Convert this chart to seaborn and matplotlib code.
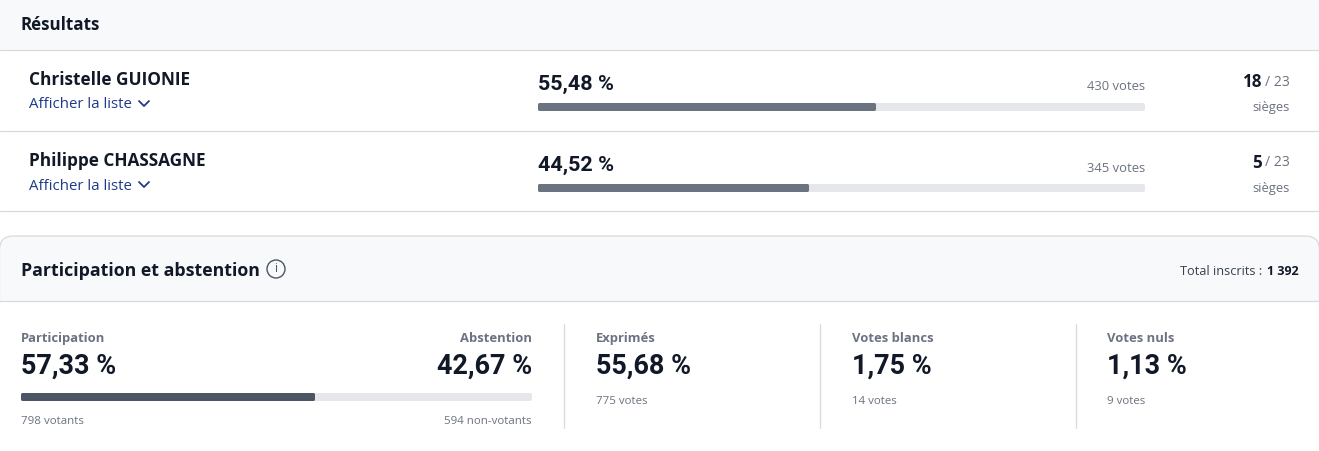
import matplotlib
matplotlib.use('Agg')
import matplotlib.pyplot as plt
import seaborn as sns
from matplotlib.patches import FancyBboxPatch, Rectangle, Circle

W, H = 1319, 451

candidates = ['Christelle GUIONIE', 'Philippe CHASSAGNE']
cand_pct = [55.48, 44.52]
cand_votes = [430, 345]
cand_seats = [18, 5]
total_seats = 23

participation = 57.33
abstention = 42.67
votants = 798
non_votants = 594
total_inscrits = '1 392'

stat_names = ['Exprimés', 'Votes blancs', 'Votes nuls']
stat_pct = [55.68, 1.75, 1.13]
stat_votes = [775, 14, 9]

DARK = '#111827'
GREY = '#6b7280'
LINK = '#1e3a8a'
TRACK = '#e5e7eb'
LINE = '#d9dadd'
PANEL = '#f8f9fb'
HEAD = ['Open Sans', 'DejaVu Sans']
NUM = ['Roboto', 'DejaVu Sans']
BODY = ['Open Sans', 'DejaVu Sans']

sns.set_theme(style='white')
plt.rcParams['font.family'] = BODY


def px(size):
    return size * 0.72


def fr(v):
    return '{:.2f} %'.format(v).replace('.', ',')


fig = plt.figure(figsize=(W / 100, H / 100), dpi=100, facecolor='white')
bg = fig.add_axes([0, 0, 1, 1])
bg.set_xlim(0, W)
bg.set_ylim(H, 0)
bg.axis('off')


def label(x, y, s, size, color=DARK, weight='normal', ha='left', family=BODY):
    bg.text(x, y, s, fontsize=px(size), color=color, fontweight=weight, ha=ha, va='center',
            family=family)


def progress(x0, x1, y0, y1, value, color):
    # bar with round joins, so the axes is inset by half the edge width
    lw = 3
    ax = fig.add_axes([(x0 - 1 + lw / 2) / W, 1 - (y1 - lw / 2) / H,
                       (x1 - x0 - lw) / W, (y1 - y0 - lw) / H])
    ax.patch.set_alpha(0)
    sns.barplot(x=[100], y=['p'], color=TRACK, width=1, saturation=1, ax=ax)
    sns.barplot(x=[value], y=['p'], color=color, width=1, saturation=1, ax=ax)
    for i, p in enumerate(ax.patches):
        p.set_edgecolor(TRACK if i == 0 else color)
        p.set_linewidth(px(lw))
        p.set_joinstyle('round')
        p.set_clip_on(False)
    ax.set_xlim(0, 100)
    ax.axis('off')


# header panels
bg.add_patch(Rectangle((0, 0), W, 50, fc=PANEL, ec='none'))
bg.add_patch(FancyBboxPatch((-0.5, 236), W + 1, 90, boxstyle='round,pad=0,rounding_size=14',
                            fc=PANEL, ec=LINE, lw=0.9))
bg.add_patch(Rectangle((0, 300.5), W, 60, fc='white', ec='none', zorder=2))
for y in [50, 131, 211, 301]:
    bg.plot([0, W], [y, y], color=LINE, lw=0.9, zorder=3)
for x in [564, 820, 1076]:
    bg.plot([x, x], [324, 428], color=LINE, lw=0.9, zorder=3)

label(21, 25, 'Résultats', 17, weight='bold', family=HEAD)

# candidates
for i, name in enumerate(candidates):
    dy = i * 81
    label(29, 80 + dy, name, 17.2, weight='bold', family=HEAD)
    label(29, 105 + dy, 'Afficher la liste', 15, color=LINK)
    bg.plot([139, 144, 149], [101 + dy, 106 + dy, 101 + dy], color=LINK, lw=1.3,
            solid_capstyle='round', solid_joinstyle='round')
    label(538, 84 + dy, fr(cand_pct[i]), 21.5, weight='bold', family=NUM)
    label(1145, 87 + dy, '{} votes'.format(cand_votes[i]), 13, color=GREY, ha='right')
    progress(538, 1145, 102.5 + dy, 110.5 + dy, cand_pct[i], GREY)
    label(1262, 82 + dy, str(cand_seats[i]), 17, weight='bold', ha='right')
    label(1290, 82 + dy, '/ {}'.format(total_seats), 14, color=GREY, ha='right')
    label(1290, 107.5 + dy, 'sièges', 13, color=GREY, ha='right')

# participation header
label(21, 271, 'Participation et abstention', 17.7, weight='bold', family=HEAD)
bg.add_patch(Circle((276, 269), 9, fc='none', ec='#4b5563', lw=1))
label(276, 269, 'i', 12, color='#4b5563', ha='center')
label(1262, 271.5, 'Total inscrits :', 12.8, color='#374151', ha='right')
label(1299, 271.5, total_inscrits, 12.5, weight='bold', ha='right')

# participation block
label(21, 338.5, 'Participation', 13, color=GREY, weight='bold')
label(532, 338.5, 'Abstention', 13, color=GREY, weight='bold', ha='right')
label(21, 366.5, fr(participation), 27, weight='bold', family=NUM)
label(532, 366.5, fr(abstention), 27, weight='bold', ha='right', family=NUM)
progress(21, 532, 392, 400, participation, '#4b5563')
label(21, 421.5, '{} votants'.format(votants), 11.5, color=GREY)
label(532, 421.5, '{} non-votants'.format(non_votants), 11.5, color=GREY, ha='right')

# other stats
for x, name, pct, votes in zip([596, 852, 1107], stat_names, stat_pct, stat_votes):
    label(x, 338.5, name, 13, color=GREY, weight='bold')
    label(x, 366.5, fr(pct), 27, weight='bold', family=NUM)
    label(x, 401.5, '{} votes'.format(votes), 11.5, color=GREY)

fig.savefig('out.png', dpi=100, facecolor='white')
